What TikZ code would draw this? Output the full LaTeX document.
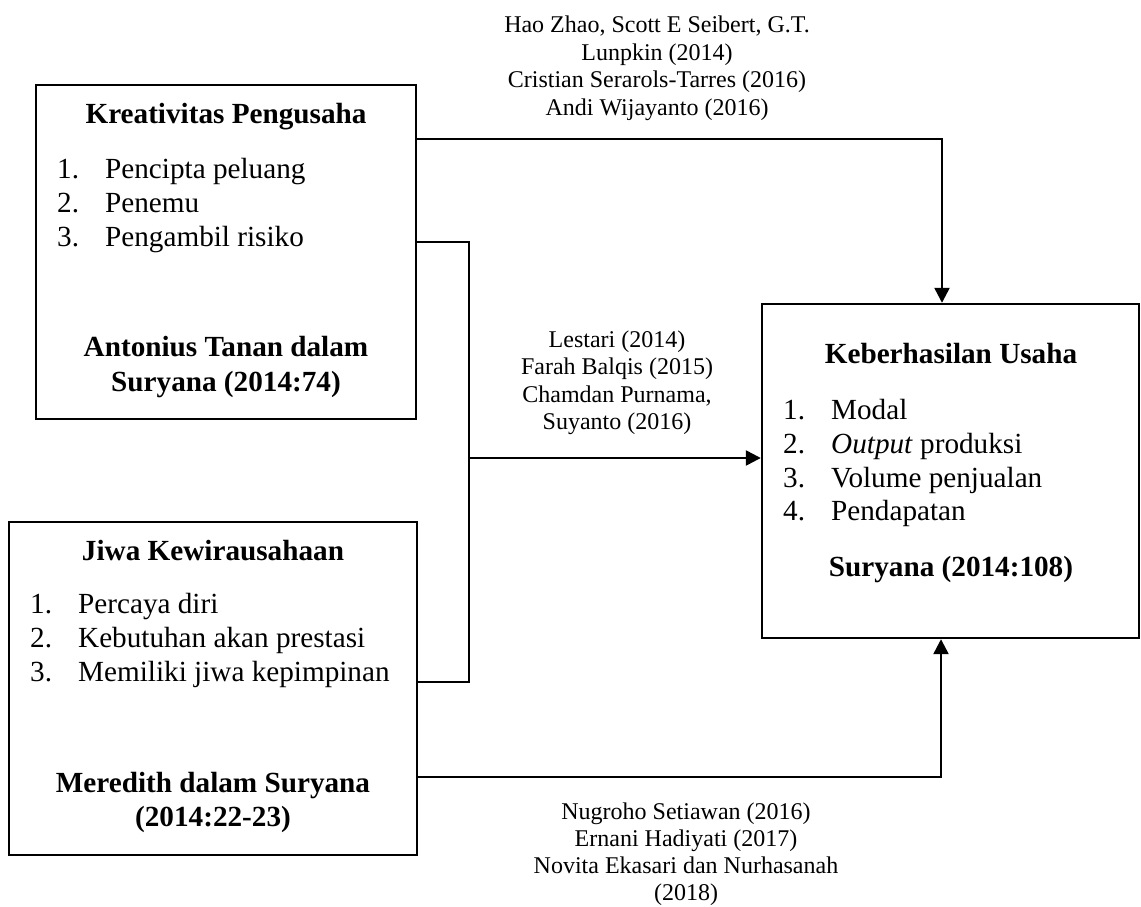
\documentclass[tikz,border=0pt]{standalone}
\usepackage{fontspec}
\setmainfont{Liberation Serif}
\usetikzlibrary{arrows.meta}
\tikzset{
  box/.style={draw, line width=2.4pt, inner sep=0pt},
  bt/.style={font=\fontsize{29.2}{35}\selectfont, inner sep=0pt},
  ct/.style={font=\fontsize{24}{27.5}\selectfont, inner sep=0pt, anchor=base},
  ln/.style={line width=2.4pt},
  arr/.style={line width=2.4pt, -{Triangle[length=15pt,width=15pt]}},
}
\begin{document}
\begin{tikzpicture}[x=1pt,y=-1pt]
\useasboundingbox (0,0) rectangle (1141,907);

% boxes
\node[box, minimum width=380pt, minimum height=334pt] (b1) at (226,252) {};
\node[box, minimum width=408pt, minimum height=333pt] (b2) at (213,688.5) {};
\node[box, minimum width=377pt, minimum height=334pt] (b3) at (950.5,471) {};

% box 1 text
\node[bt, anchor=base] (h1) at (226,124) {\textbf{Kreativitas Pengusaha}};
\node[bt, anchor=base west] (k1) at (57,178) {\makebox[48pt][l]{1.}Pencipta peluang};
\node[bt, anchor=base west] (k2) at (57,212) {\makebox[48pt][l]{2.}Penemu};
\node[bt, anchor=base west] (k3) at (57,246) {\makebox[48pt][l]{3.}Pengambil risiko};
\node[bt, anchor=base] (s1a) at (226,356) {\textbf{Antonius Tanan dalam}};
\node[bt, anchor=base] (s1b) at (226,391) {\textbf{Suryana (2014:74)}};

% box 2 text
\node[bt, anchor=base] (h2) at (213,560) {\textbf{Jiwa Kewirausahaan}};
\node[bt, anchor=base west] (j1) at (30,613) {\makebox[48pt][l]{1.}Percaya diri};
\node[bt, anchor=base west] (j2) at (30,647) {\makebox[48pt][l]{2.}Kebutuhan akan prestasi};
\node[bt, anchor=base west] (j3) at (30,681) {\makebox[48pt][l]{3.}Memiliki jiwa kepimpinan};
\node[bt, anchor=base] (s2a) at (213,792) {\textbf{Meredith dalam Suryana}};
\node[bt, anchor=base] (s2b) at (213,826) {\textbf{(2014:22-23)}};

% box 3 text
\node[bt, anchor=base] (h3) at (951,363) {\textbf{Keberhasilan Usaha}};
\node[bt, anchor=base west] (u1) at (783,419) {\makebox[48pt][l]{1.}Modal};
\node[bt, anchor=base west] (u2) at (783,453) {\makebox[48pt][l]{2.}\textit{Output} produksi};
\node[bt, anchor=base west] (u3) at (783,487) {\makebox[48pt][l]{3.}Volume penjualan};
\node[bt, anchor=base west] (u4) at (783,520) {\makebox[48pt][l]{4.}Pendapatan};
\node[bt, anchor=base] (s3) at (951,576) {\textbf{Suryana (2014:108)}};

% connectors
\coordinate (j) at (469,458);
\draw[arr] (b1.east |- 0,139) -| (942,0 |- b3.north);
\draw[ln] (b1.east |- 0,242) -| (j);
\draw[ln] (b2.east |- 0,682) -| (j);
\draw[arr] (j) -- (b3.west |- j);
\draw[arr] (b2.east |- 0,777) -| (941,0 |- b3.south);

% citation labels
\node[ct] (c1a) at (657,33) {Hao Zhao, Scott E Seibert, G.T.};
\node[ct] (c1b) at (657,60.3) {Lunpkin (2014)};
\node[ct] (c1c) at (657,87.6) {Cristian Serarols-Tarres (2016)};
\node[ct] (c1d) at (657,115) {Andi Wijayanto (2016)};

\node[ct] (c2a) at (617,347) {Lestari (2014)};
\node[ct] (c2b) at (617,374.5) {Farah Balqis (2015)};
\node[ct] (c2c) at (617,402) {Chamdan Purnama,};
\node[ct] (c2d) at (617,429.5) {Suyanto (2016)};

\node[ct] (c3a) at (686,819) {Nugroho Setiawan (2016)};
\node[ct] (c3b) at (686,846) {Ernani Hadiyati (2017)};
\node[ct] (c3c) at (686,873) {Novita Ekasari dan Nurhasanah};
\node[ct] (c3d) at (686,900) {(2018)};
\end{tikzpicture}
\end{document}
